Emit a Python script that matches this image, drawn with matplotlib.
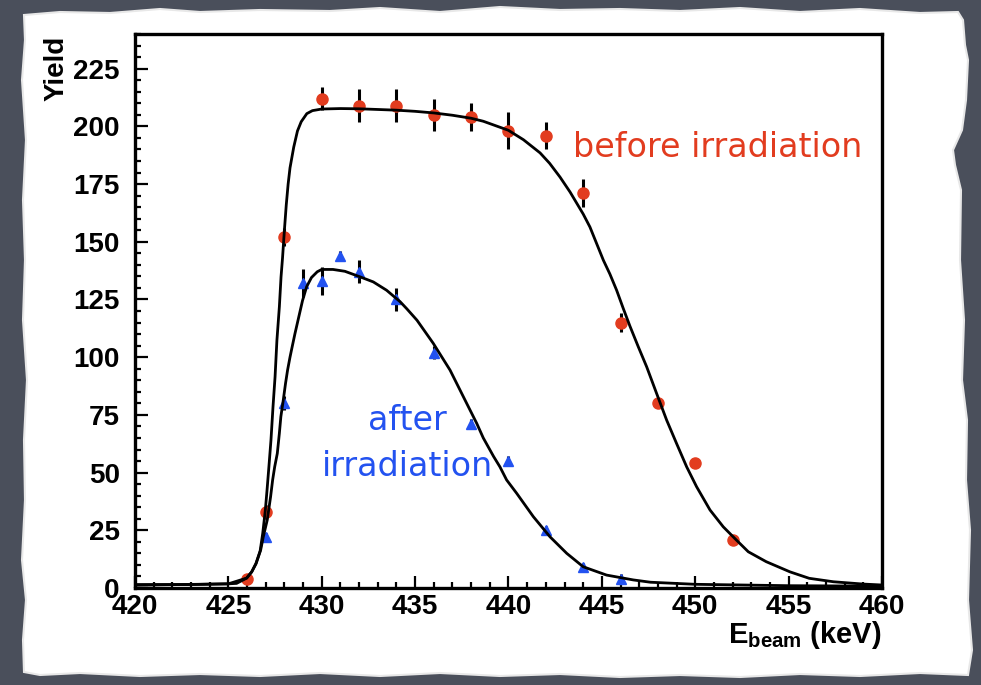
import matplotlib
matplotlib.use("Agg")
import matplotlib.pyplot as plt
from matplotlib.patches import Polygon
from matplotlib.ticker import MultipleLocator

# measured points, before irradiation
before_e = [426, 427, 428, 430, 432, 434, 436, 438, 440, 442, 444, 446, 448, 450, 452]
before_y = [4, 33, 152, 212, 209, 209, 205, 204, 198, 196, 171, 115, 80, 54, 21]
before_err = [2, 3, 4, 5, 7, 7, 7, 6, 8, 6, 6, 4, 2, 2, 2]

# measured points, after irradiation
after_e = [427, 428, 429, 430, 431, 432, 434, 436, 438, 440, 442, 444, 446]
after_y = [22, 80, 132, 133, 144, 137, 125, 102, 71, 55, 25, 9, 4]
after_err = [2, 3, 6, 6, 2, 5, 5, 3, 2, 2, 2, 2, 2]

# fit curves
fit_before_e = [420, 423, 425.0, 425.44, 425.98, 426.25, 426.48, 426.7, 426.84, 426.98,
                427.07, 427.17, 427.28, 427.39, 427.5, 427.6, 427.73, 427.82, 427.9, 428.0,
                428.1, 428.2, 428.3, 428.5, 428.7, 428.9, 429.2, 429.5, 430, 431,
                432, 433, 434, 435, 436, 437, 438, 438.65, 439.99, 440.8,
                441.69, 442.2, 442.76, 443.3, 444.0, 444.36, 444.72, 445.08, 445.43, 445.79,
                446.15, 446.5, 446.95, 447.4, 447.93, 448.47, 449.0, 449.54, 450.07, 450.79,
                451.5, 452.2, 452.84, 453.8, 455.07, 456.1, 457.4, 459, 460]
fit_before_y = [1.5, 1.5, 1.8, 2.0, 4.3, 7, 10.7, 16, 23.7, 33.8,
                42.4, 52.5, 64, 78.5, 91.5, 107.4, 121.8, 134.8, 143, 155,
                166, 175, 182, 191, 198, 202, 205.5, 206.8, 207.5, 207.7,
                207.6, 207.3, 207, 206.5, 205.8, 204.8, 203.5, 202.2, 198.3, 194.2,
                188.5, 184, 178, 171.5, 162, 156.4, 149.2, 142, 136, 129,
                121, 113.5, 104.5, 95.8, 84.3, 72.7, 62.6, 52.5, 43.9, 33.8,
                26.5, 20.8, 15.7, 11.4, 7, 4.2, 2.7, 1.7, 1.3]

fit_after_e = [420, 425, 425.98, 426.25, 426.48, 426.73, 426.87, 427.08, 427.26, 427.37,
               427.48, 427.62, 427.73, 427.81, 427.94, 428.06, 428.17, 428.3, 428.39, 428.56,
               428.8, 428.97, 429.19, 429.45, 429.76, 430.0, 430.6, 431.24, 432.05, 432.76,
               433.47, 434.2, 434.55, 435.1, 435.97, 436.87, 437.76, 438.3, 438.65, 439.2,
               439.54, 439.9, 440.44, 441.33, 442.22, 443.12, 444.0, 445.25, 446.68, 447.6,
               450, 455, 460]
fit_after_y = [1.2, 1.8, 4.3, 7, 10.5, 16.5, 22.2, 29.4, 39.5, 46.8,
               52.5, 58.3, 67, 74.2, 81.4, 88.6, 94.4, 100, 103.5, 110,
               118.5, 124.5, 130.5, 134.5, 137, 138, 138, 137.2, 134.8, 132.6,
               129, 124, 121, 116, 106, 94.4, 80, 71.3, 65, 57,
               52.5, 46.8, 41, 30.9, 22.2, 15, 9.2, 5.6, 3.5, 2.5,
               1.6, 1.0, 0.8]

RED = "#e23c1f"
BLUE = "#2352f0"
W, H = 981, 685

plt.rcParams["mathtext.fontset"] = "custom"
plt.rcParams["mathtext.bf"] = "Liberation Sans:bold"
plt.rcParams["mathtext.rm"] = "Liberation Sans:bold"

fig = plt.figure(figsize=(W / 100, H / 100), dpi=100)
fig.patch.set_facecolor("#4a4f5b")

# torn paper sheet (pixel coords, y down)
paper_px = [(24, 15), (60, 12), (110, 13), (160, 9), (200, 12), (260, 10), (330, 11), (380, 8),
            (440, 12), (500, 7), (560, 10), (620, 9), (680, 11), (740, 8), (800, 12), (860, 9),
            (920, 13), (958, 12), (963, 20), (965, 45), (968, 60), (966, 100), (962, 130),
            (953, 150), (955, 165), (961, 190), (960, 260), (964, 320), (962, 380), (967, 420),
            (966, 480), (970, 530), (968, 600), (972, 650), (968, 675), (920, 673), (860, 676),
            (800, 674), (740, 677), (680, 675), (620, 677), (560, 674), (500, 676), (440, 673),
            (380, 676), (320, 673), (260, 676), (200, 674), (140, 676), (80, 673), (40, 675),
            (24, 672), (23, 640), (26, 600), (22, 560), (25, 500), (24, 440), (27, 380),
            (23, 320), (25, 260), (23, 200), (26, 140), (22, 80), (25, 40)]
paper = Polygon([(x / W, 1 - y / H) for x, y in paper_px], closed=True,
                transform=fig.transFigure, facecolor="white", edgecolor="#e8e8e8",
                linewidth=1.5, zorder=-5)
fig.patches.append(paper)

ax = fig.add_axes([135 / W, 1 - 588 / H, 747 / W, 554 / H])
ax.set_zorder(2)
ax.set_facecolor("white")

ax.errorbar(before_e, before_y, yerr=before_err, fmt="o", color=RED, ms=8,
            ecolor="black", elinewidth=2.2, capsize=0, zorder=3)
ax.errorbar(after_e, after_y, yerr=after_err, fmt="^", color=BLUE, ms=7.5,
            ecolor="black", elinewidth=2.2, capsize=0, zorder=3)
ax.plot(fit_before_e, fit_before_y, color="black", lw=2.0, zorder=4)
ax.plot(fit_after_e, fit_after_y, color="black", lw=2.0, zorder=4)

ax.set_xlim(420, 460)
ax.set_ylim(0, 240)
ax.xaxis.set_major_locator(MultipleLocator(5))
ax.xaxis.set_minor_locator(MultipleLocator(1))
ax.yaxis.set_major_locator(MultipleLocator(25))
ax.yaxis.set_minor_locator(MultipleLocator(5))
ax.tick_params(which="both", direction="in", top=False, right=False, width=1.6, color="black")
ax.tick_params(which="major", length=9)
ax.tick_params(which="minor", length=4.5)
ax.tick_params(axis="y", which="major", pad=11, labelsize=20)
ax.tick_params(axis="x", which="major", pad=4, labelsize=20)
for lab in ax.get_xticklabels() + ax.get_yticklabels():
    lab.set_family("Liberation Sans")
    lab.set_fontweight("bold")
for sp in ax.spines.values():
    sp.set_linewidth(2.4)

ax.set_ylabel("Yield", fontsize=20, fontweight="bold", family="Liberation Sans", loc="top")
ax.yaxis.set_label_coords(-0.087, 0.997)
ax.set_xlabel(r"$\mathbf{E}_{\mathbf{beam}}$ (keV)", fontsize=21, fontweight="bold",
              family="Liberation Sans", loc="right")
ax.xaxis.set_label_coords(1.0, -0.056)

ax.text(443.45, 191, "before irradiation", color=RED, fontsize=24, ha="left", va="center")
ax.text(434.6, 72.5, "after", color=BLUE, fontsize=24, ha="center", va="center")
ax.text(434.6, 52.8, "irradiation", color=BLUE, fontsize=24, ha="center", va="center")

fig.savefig("out.png", dpi=100, facecolor=fig.get_facecolor())
